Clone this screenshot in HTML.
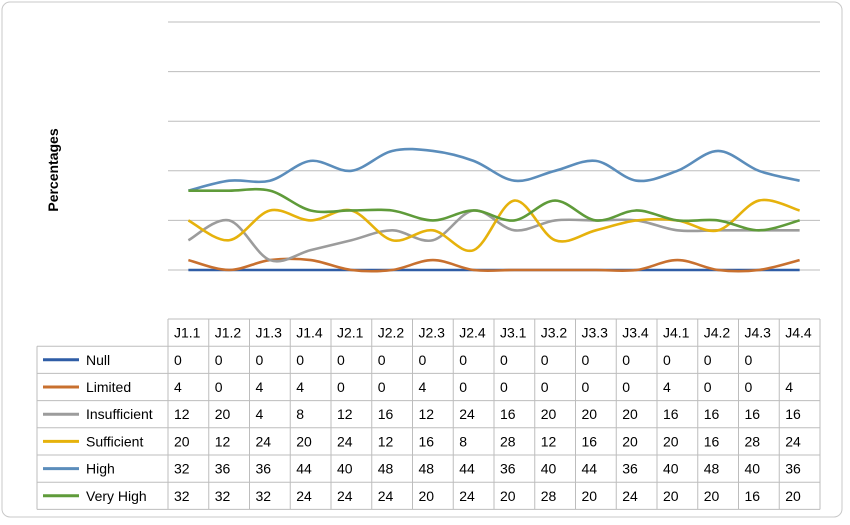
<!DOCTYPE html>
<html><head><meta charset="utf-8"><style>
body{margin:0;background:#fff;font-family:"Liberation Sans",sans-serif}
svg{display:block}
</style></head><body>
<svg id="chart" width="850" height="525" xmlns="http://www.w3.org/2000/svg">
<rect x="2" y="2" width="840" height="515" rx="8" fill="#fff" stroke="#c8c8c8"/>
<text x="58" y="170" transform="rotate(-90 58 170)" text-anchor="middle" font-size="14" font-weight="bold">Percentages</text>
<g id="grid"></g><g id="lines"></g><g id="table"></g>
</svg>
<script>
const categories=["J1.1","J1.2","J1.3","J1.4","J2.1","J2.2","J2.3","J2.4","J3.1","J3.2","J3.3","J3.4","J4.1","J4.2","J4.3","J4.4"];
const seriesNames=["Null","Limited","Insufficient","Sufficient","High","Very High"];
const nullVals=[0,0,0,0,0,0,0,0,0,0,0,0,0,0,0,0];
const limitedVals=[4,0,4,4,0,0,4,0,0,0,0,0,4,0,0,4];
const insufficientVals=[12,20,4,8,12,16,12,24,16,20,20,20,16,16,16,16];
const sufficientVals=[20,12,24,20,24,12,16,8,28,12,16,20,20,16,28,24];
const highVals=[32,36,36,44,40,48,48,44,36,40,44,36,40,48,40,36];
const veryHighVals=[32,32,32,24,24,24,20,24,20,28,20,24,20,20,16,20];
const nullLabels=["0","0","0","0","0","0","0","0","0","0","0","0","0","0","0",""];
const gridTicks=[0,20,40,60,80,100];
const colors=["#2f5da6","#c8702f","#9c9c9c","#e6b20c","#5b8dbb","#5f9b3a"];
const series=[nullVals,limitedVals,insufficientVals,sufficientVals,highVals,veryHighVals];
const NS="http://www.w3.org/2000/svg";
const L=168,R=820,colW=(R-L)/categories.length;
const x=i=>L+colW*(i+0.5);
const y=v=>270-v*2.48;
function mk(t,a,p){const e=document.createElementNS(NS,t);for(const k in a)e.setAttribute(k,a[k]);p.appendChild(e);return e;}
const grid=document.getElementById('grid');
gridTicks.forEach(t=>{
 const l=mk('line',{x1:L,x2:R,y1:y(t),y2:y(t),stroke:'#bdbdbd','stroke-width':1},grid);
 
 
});
const lines=document.getElementById('lines');
series.forEach((vals,s)=>{
 const pts=vals.map((v,i)=>[x(i),y(v)]);
 let d='M'+pts[0][0]+','+pts[0][1];
 for(let i=0;i<pts.length-1;i++){
  const p0=pts[Math.max(0,i-1)],p1=pts[i],p2=pts[i+1],p3=pts[Math.min(pts.length-1,i+2)];
  const t=1/6;
  d+=` C${p1[0]+(p2[0]-p0[0])*t},${p1[1]+(p2[1]-p0[1])*t} ${p2[0]-(p3[0]-p1[0])*t},${p2[1]-(p3[1]-p1[1])*t} ${p2[0]},${p2[1]}`;
 }
 const p=mk('path',{d:d,fill:'none',stroke:colors[s],'stroke-width':2.6},lines);
 
 
});
const tb=document.getElementById('table');
const T0=319,RH=27.2,TL=37;
const rows=series.length;
const bottom=T0+RH*(rows+1);
// vertical lines
for(let i=0;i<=categories.length;i++){
 mk('line',{x1:L+colW*i,x2:L+colW*i,y1:T0,y2:bottom,stroke:'#bdbdbd'},tb);
}
mk('line',{x1:TL,x2:TL,y1:T0+RH,y2:bottom,stroke:'#bdbdbd'},tb);
mk('line',{x1:L,x2:R,y1:T0,y2:T0,stroke:'#bdbdbd'},tb);
for(let r=1;r<=rows+1;r++){
 mk('line',{x1:TL,x2:R,y1:T0+RH*r,y2:T0+RH*r,stroke:'#bdbdbd'},tb);
}
categories.forEach((c,i)=>{
 const t=mk('text',{x:L+colW*i+6,y:T0+RH/2+5,'font-size':14,fill:'#000'},tb);
 t.textContent=c;
 
 
});
series.forEach((vals,s)=>{
 const ry=T0+RH*(s+1)+RH/2;
 const k=mk('line',{x1:43,x2:79,y1:ry,y2:ry,stroke:colors[s],'stroke-width':3},tb);
 
 
 const n=mk('text',{x:86,y:ry+5,'font-size':14},tb);
 n.textContent=seriesNames[s];
 
 
 vals.forEach((v,i)=>{
  const t=mk('text',{x:L+colW*i+6,y:ry+5,'font-size':14},tb);
  t.textContent=s===0?nullLabels[i]:String(v);
  
  
 });
});
</script>
</body></html>
